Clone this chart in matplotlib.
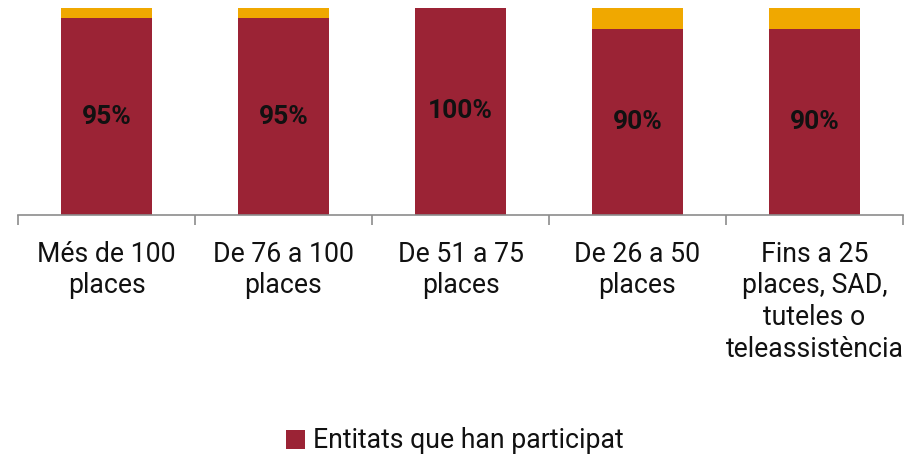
import matplotlib
matplotlib.use("Agg")
import matplotlib.pyplot as plt
from matplotlib.patches import Patch

plt.rcParams['font.family'] = ['Roboto', 'DejaVu Sans']

categories = ["Més de 100\nplaces", "De 76 a 100\nplaces", "De 51 a 75\nplaces",
              "De 26 a 50\nplaces", "Fins a 25\nplaces, SAD,\ntuteles o\nteleassistència"]
participated = [95, 95, 100, 90, 90]
not_participated = [5, 5, 0, 10, 10]
labels = ["95%", "95%", "100%", "90%", "90%"]

RED = "#9B2335"
ORANGE = "#F0A800"

fig = plt.figure(figsize=(9.15, 4.58), dpi=100)
ax = fig.add_axes([18/915, 243/458, 885/915, 207/458])

x = list(range(len(categories)))
ax.bar(x, participated, width=0.515, color=RED, edgecolor="none")
ax.bar(x, not_participated, bottom=participated, width=0.515, color=ORANGE, edgecolor="none")

for xi, v, lab in zip(x, participated, labels):
    ax.text(xi, v / 2, lab, ha="center", va="center", fontsize=19, fontweight="bold", color="#111111")

ax.set_xlim(-0.5, len(categories) - 0.5)
ax.set_ylim(0, 100)
ax.set_yticks([])
for s in ["top", "right", "left"]:
    ax.spines[s].set_visible(False)
ax.spines["bottom"].set_color("#8c8c8c")
ax.spines["bottom"].set_linewidth(1.2)

ax.set_xticks([i - 0.5 for i in range(len(categories) + 1)], minor=False)
ax.set_xticklabels([])
ax.tick_params(axis="x", which="major", length=7, color="#8c8c8c", width=1.2)
ax.set_xticks(x, minor=True)
ax.set_xticklabels(categories, minor=True, fontsize=19.2, color="#111111", linespacing=1.22)
ax.tick_params(axis="x", which="minor", length=0, pad=18.5)

handles = [Patch(facecolor=RED, edgecolor="none", label="Entitats que han participat")]
fig.legend(handles=handles, loc="center", bbox_to_anchor=(0.497, 17/458),
           frameon=False, fontsize=19.2, handlelength=0.7, handleheight=0.7, handletextpad=0.3,
           labelcolor="#111111")

fig.savefig("out.png", dpi=100)
